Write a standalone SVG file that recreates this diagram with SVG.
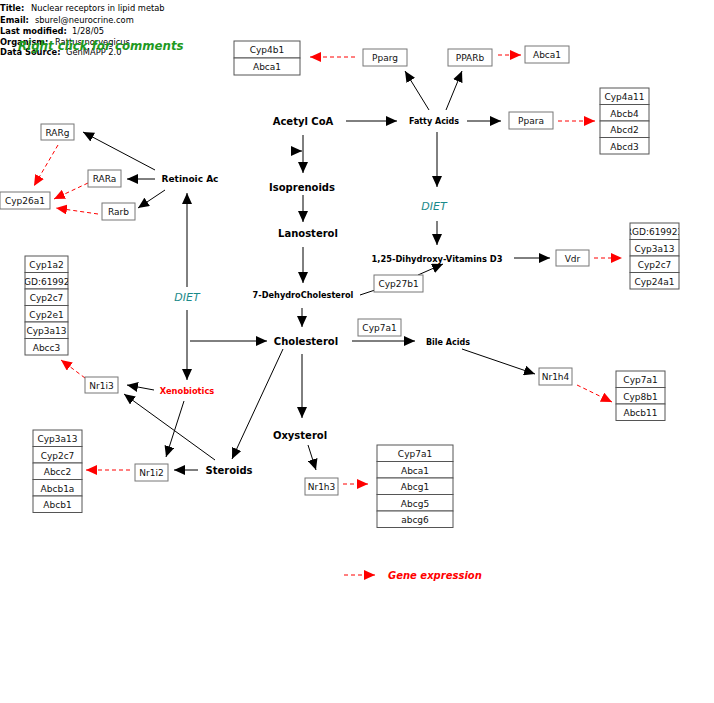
<svg xmlns="http://www.w3.org/2000/svg" width="714" height="703" viewBox="0 0 714 703">
<style>
text{font-family:"DejaVu Sans","Liberation Sans",sans-serif;}
.hdr{font-size:8.3px;fill:#000;font-weight:bold;}
.hv{font-weight:normal;}
.box{fill:#fff;stroke:#777;stroke-width:1;}
.stk{fill:#fff;stroke:#555;stroke-width:1;}
.gl{font-size:9px;fill:#111;text-anchor:middle;}
.met{font-weight:bold;fill:#000;text-anchor:middle;}
.diet{font-size:11px;font-style:italic;fill:#1a8a8a;text-anchor:middle;}
.ln{stroke:#000;stroke-width:1;fill:none;marker-end:url(#ah);}
.rd{stroke:#ff0000;stroke-width:1;stroke-dasharray:4,3;fill:none;marker-end:url(#rh);}
</style>
<defs>
<marker id="ah" markerUnits="userSpaceOnUse" markerWidth="12" markerHeight="10" refX="11" refY="5" orient="auto"><path d="M0,0 L11,5 L0,10 z" fill="#000"/></marker>
<marker id="rh" markerUnits="userSpaceOnUse" markerWidth="12" markerHeight="10" refX="11" refY="5" orient="auto"><path d="M0,0 L11,5 L0,10 z" fill="#ff0000"/></marker>
<clipPath id="c1"><rect x="25" y="272" width="43" height="17"/></clipPath>
<clipPath id="c2"><rect x="630" y="223" width="49" height="17"/></clipPath>
</defs>

<g id="header">
<text class="hdr" x="0" y="11">Title:<tspan class="hv" x="31">Nuclear receptors in lipid metab</tspan></text>
<text class="hdr" x="0" y="23">Email:<tspan class="hv" x="35">sburel@neurocrine.com</tspan></text>
<text class="hdr" x="0" y="34">Last modified:<tspan class="hv" x="72">1/28/05</tspan></text>
<text class="hdr" x="0" y="45">Organism:<tspan class="hv" x="55">Rattus norvegicus</tspan></text>
<text class="hdr" x="0" y="55">Data Source:<tspan class="hv" x="66">GenMAPP 2.0</tspan></text>
<text x="18" y="50" style="font-size:11.8px;font-weight:bold;font-style:italic;fill:#1f9a1f;">Right click for comments</text>
</g>

<g id="connectors">
<line class="rd" x1="355" y1="57" x2="310" y2="57"/>
<line class="rd" x1="498" y1="55" x2="521" y2="55"/>
<line class="rd" x1="558" y1="121" x2="595" y2="121"/>
<line class="ln" x1="346" y1="121" x2="397" y2="121"/>
<line class="ln" x1="467" y1="121" x2="501" y2="121"/>
<line class="ln" x1="429" y1="110" x2="405" y2="71"/>
<line class="ln" x1="446" y1="110" x2="462" y2="71"/>
<line class="ln" x1="437" y1="132" x2="437" y2="187"/>
<line class="ln" x1="437" y1="221" x2="437" y2="245"/>
<line class="ln" x1="514" y1="258" x2="550" y2="258"/>
<line class="rd" x1="594" y1="258" x2="622" y2="258"/>
<line class="ln" x1="303" y1="135" x2="303" y2="173"/>
<line class="ln" x1="293" y1="151" x2="302" y2="151"/>
<line class="ln" x1="303" y1="195" x2="303" y2="222"/>
<line class="ln" x1="303" y1="247" x2="303" y2="283"/>
<polyline style="stroke:#000;fill:none" points="360,295 375,290"/>
<line class="ln" x1="418" y1="275" x2="443" y2="264"/>
<line class="ln" x1="302" y1="308" x2="302" y2="327"/>
<line class="ln" x1="190" y1="341" x2="267" y2="341"/>
<line class="ln" x1="352" y1="341" x2="415" y2="341"/>
<line class="ln" x1="462" y1="349" x2="535" y2="374"/>
<line class="rd" x1="577" y1="385" x2="612" y2="402"/>
<line class="ln" x1="302" y1="354" x2="302" y2="418"/>
<line class="ln" x1="308" y1="445" x2="316" y2="470"/>
<line class="rd" x1="343" y1="484" x2="368" y2="484"/>
<line class="ln" x1="283" y1="349" x2="232" y2="459"/>
<line class="ln" x1="198" y1="470" x2="174" y2="470"/>
<line class="rd" x1="130" y1="470" x2="86" y2="470"/>
<line class="ln" x1="215" y1="460" x2="124" y2="394"/>
<line class="ln" x1="154" y1="390" x2="127" y2="385"/>
<line class="ln" x1="184" y1="401" x2="166" y2="457"/>
<line class="rd" x1="85" y1="378" x2="61" y2="360"/>
<line class="ln" x1="187" y1="287" x2="187" y2="193"/>
<line class="ln" x1="187" y1="310" x2="187" y2="380"/>
<line class="ln" x1="155" y1="170" x2="83" y2="132"/>
<line class="ln" x1="155" y1="179" x2="127" y2="179"/>
<line class="ln" x1="165" y1="190" x2="138" y2="208"/>
<line class="rd" x1="58" y1="145" x2="34" y2="186"/>
<line class="rd" x1="88" y1="183" x2="54" y2="199"/>
<line class="rd" x1="98" y1="214" x2="56" y2="208"/>
<line class="rd" x1="344" y1="575" x2="375" y2="575"/>
</g>

<g id="metabolites">
<text class="met" x="303" y="125" style="font-size:10px">Acetyl CoA</text>
<text class="met" x="434" y="124" style="font-size:8px">Fatty Acids</text>
<text class="met" x="302" y="191" style="font-size:10px">Isoprenoids</text>
<text class="met" x="308" y="237" style="font-size:10px">Lanosterol</text>
<text class="met" x="437" y="262" style="font-size:8.3px">1,25-Dihydroxy-Vitamins D3</text>
<text class="met" x="303" y="298" style="font-size:8.2px">7-DehydroCholesterol</text>
<text class="met" x="306" y="345" style="font-size:10px">Cholesterol</text>
<text class="met" x="448" y="345" style="font-size:8px">Bile Acids</text>
<text class="met" x="300" y="439" style="font-size:10px">Oxysterol</text>
<text class="met" x="229" y="474" style="font-size:10px">Steroids</text>
<text class="met" x="187" y="394" style="font-size:8.3px;fill:#ff0000">Xenobiotics</text>
<text class="met" x="190" y="182" style="font-size:9px">Retinoic Ac</text>
<text class="diet" x="434" y="210">DIET</text>
<text class="diet" x="187" y="301">DIET</text>
</g>

<g id="n-cyp4b1-stack">
<rect class="stk" x="234" y="41" width="66" height="17"/><text class="gl" x="267" y="53">Cyp4b1</text>
<rect class="stk" x="234" y="58" width="66" height="17"/><text class="gl" x="267" y="70">Abca1</text>
</g>
<g id="n-pparg"><rect class="box" x="363" y="49" width="44" height="17"/><text class="gl" x="385" y="61">Pparg</text></g>
<g id="n-pparb"><rect class="box" x="448" y="49" width="44" height="17"/><text class="gl" x="470" y="61">PPARb</text></g>
<g id="n-abca1"><rect class="box" x="525" y="46" width="44" height="17"/><text class="gl" x="547" y="58">Abca1</text></g>
<g id="n-ppara"><rect class="box" x="509" y="112" width="44" height="17"/><text class="gl" x="531" y="124">Ppara</text></g>
<g id="n-cyp4a11-stack">
<rect class="stk" x="600" y="88" width="49" height="16.5"/><text class="gl" x="624.5" y="100">Cyp4a11</text>
<rect class="stk" x="600" y="104.5" width="49" height="16.5"/><text class="gl" x="624.5" y="116.5">Abcb4</text>
<rect class="stk" x="600" y="121" width="49" height="16.5"/><text class="gl" x="624.5" y="133">Abcd2</text>
<rect class="stk" x="600" y="137.5" width="49" height="16.5"/><text class="gl" x="624.5" y="149.5">Abcd3</text>
</g>
<g id="n-vdr"><rect class="box" x="556" y="250" width="33" height="16"/><text class="gl" x="572.5" y="262">Vdr</text></g>
<g id="n-rgd-stack">
<rect class="stk" x="630" y="223" width="49" height="16.5"/><text class="gl" x="654.5" y="235" clip-path="url(#c2)">RGD:619923</text>
<rect class="stk" x="630" y="239.5" width="49" height="16.5"/><text class="gl" x="654.5" y="251.5">Cyp3a13</text>
<rect class="stk" x="630" y="256" width="49" height="16.5"/><text class="gl" x="654.5" y="268">Cyp2c7</text>
<rect class="stk" x="630" y="272.5" width="49" height="16.5"/><text class="gl" x="654.5" y="284.5">Cyp24a1</text>
</g>
<g id="n-cyp27b1"><rect class="box" x="374" y="275" width="49" height="17"/><text class="gl" x="398.5" y="287">Cyp27b1</text></g>
<g id="n-cyp7a1"><rect class="box" x="358" y="319" width="43" height="17"/><text class="gl" x="379.5" y="331">Cyp7a1</text></g>
<g id="n-nr1h4"><rect class="box" x="539" y="368" width="33" height="17"/><text class="gl" x="555.5" y="380">Nr1h4</text></g>
<g id="n-cyp7a1-stack2">
<rect class="stk" x="616" y="371" width="49" height="16.5"/><text class="gl" x="640.5" y="383">Cyp7a1</text>
<rect class="stk" x="616" y="387.5" width="49" height="16.5"/><text class="gl" x="640.5" y="399.5">Cyp8b1</text>
<rect class="stk" x="616" y="404" width="49" height="16.5"/><text class="gl" x="640.5" y="416">Abcb11</text>
</g>
<g id="n-nr1h3"><rect class="box" x="305" y="478" width="33" height="17"/><text class="gl" x="321.5" y="490">Nr1h3</text></g>
<g id="n-cyp7a1-stack3">
<rect class="stk" x="377" y="445" width="76" height="16.5"/><text class="gl" x="415" y="457">Cyp7a1</text>
<rect class="stk" x="377" y="461.5" width="76" height="16.5"/><text class="gl" x="415" y="473.5">Abca1</text>
<rect class="stk" x="377" y="478" width="76" height="16.5"/><text class="gl" x="415" y="490">Abcg1</text>
<rect class="stk" x="377" y="494.5" width="76" height="16.5"/><text class="gl" x="415" y="506.5">Abcg5</text>
<rect class="stk" x="377" y="511" width="76" height="16.5"/><text class="gl" x="415" y="523">abcg6</text>
</g>
<g id="n-nr1i2"><rect class="box" x="135" y="464" width="33" height="17"/><text class="gl" x="151.5" y="476">Nr1i2</text></g>
<g id="n-cyp3a13-stack">
<rect class="stk" x="33" y="430" width="49" height="16.5"/><text class="gl" x="57.5" y="442">Cyp3a13</text>
<rect class="stk" x="33" y="446.5" width="49" height="16.5"/><text class="gl" x="57.5" y="458.5">Cyp2c7</text>
<rect class="stk" x="33" y="463" width="49" height="16.5"/><text class="gl" x="57.5" y="475">Abcc2</text>
<rect class="stk" x="33" y="479.5" width="49" height="16.5"/><text class="gl" x="57.5" y="491.5">Abcb1a</text>
<rect class="stk" x="33" y="496" width="49" height="16.5"/><text class="gl" x="57.5" y="508">Abcb1</text>
</g>
<g id="n-nr1i3"><rect class="box" x="85" y="377" width="33" height="16"/><text class="gl" x="101.5" y="389">Nr1i3</text></g>
<g id="n-cyp1a2-stack">
<rect class="stk" x="25" y="256" width="43" height="16.5"/><text class="gl" x="46.5" y="268">Cyp1a2</text>
<rect class="stk" x="25" y="272.5" width="43" height="16.5"/><text class="gl" x="46.5" y="284.5" clip-path="url(#c1)">RGD:619923</text>
<rect class="stk" x="25" y="289" width="43" height="16.5"/><text class="gl" x="46.5" y="301">Cyp2c7</text>
<rect class="stk" x="25" y="305.5" width="43" height="16.5"/><text class="gl" x="46.5" y="317.5">Cyp2e1</text>
<rect class="stk" x="25" y="322" width="43" height="16.5"/><text class="gl" x="46.5" y="334">Cyp3a13</text>
<rect class="stk" x="25" y="338.5" width="43" height="16.5"/><text class="gl" x="46.5" y="350.5">Abcc3</text>
</g>
<g id="n-rarg"><rect class="box" x="41" y="124" width="33" height="16"/><text class="gl" x="57.5" y="136">RARg</text></g>
<g id="n-rara"><rect class="box" x="88" y="170" width="33" height="17"/><text class="gl" x="104.5" y="182">RARa</text></g>
<g id="n-rarb"><rect class="box" x="102" y="203" width="33" height="17"/><text class="gl" x="118.5" y="215">Rarb</text></g>
<g id="n-cyp26a1"><rect class="box" x="0" y="192" width="50" height="17"/><text class="gl" x="25" y="204">Cyp26a1</text></g>

<g id="legend">
<text x="388" y="579" style="font-size:10px;font-weight:bold;font-style:italic;fill:#ff0000">Gene expression</text>
</g>
</svg>
